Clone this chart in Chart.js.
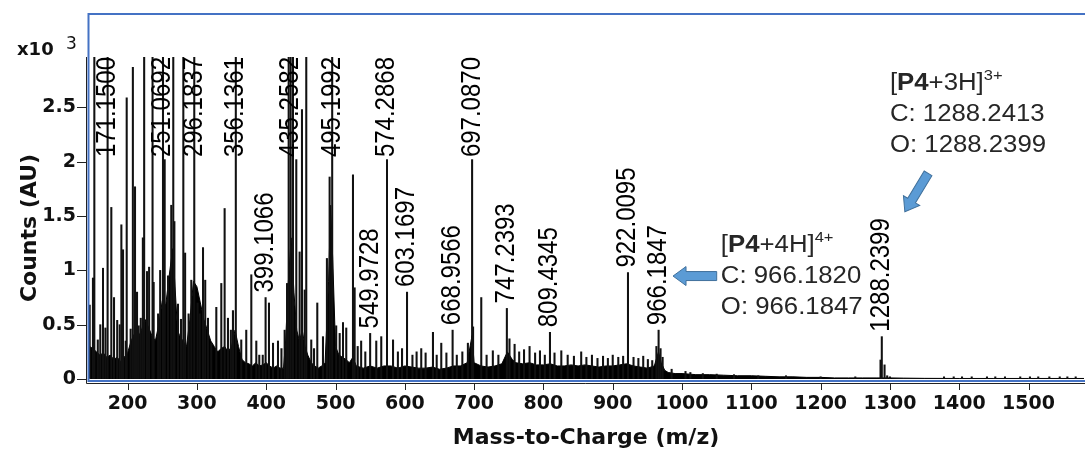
<!DOCTYPE html>
<html>
<head>
<meta charset="utf-8">
<script src="https://cdn.jsdelivr.net/npm/chart.js@4"></script>
<style>
  body { margin: 0; background: #fff; }
  canvas { display: block; }
</style>
</head>
<body>
<canvas id="spectrum" width="1085" height="452"></canvas>
<script>
// Tick values for both axes
const xTicks = [200, 300, 400, 500, 600, 700, 800, 900, 1000, 1100, 1200, 1300, 1400, 1500];
const yTicks = [0, 0.5, 1, 1.5, 2, 2.5];

// Dense low-level signal (upper edge of the filled "grass"), m/z and counts x10^3
const baseMz = [145, 150, 155, 160, 165, 170, 175, 180, 185, 190, 195, 200, 205, 210, 215, 220, 225, 230, 235, 240,
    245, 250, 255, 260, 265, 268, 272, 275, 280, 285, 290, 295, 300, 305, 310, 315, 320, 325, 330, 335,
    340, 345, 350, 355, 360, 365, 370, 375, 380, 385, 390, 395, 400, 405, 410, 415, 420, 425, 428, 432,
    436, 440, 444, 448, 452, 456, 460, 465, 470, 475, 480, 485, 490, 493, 496, 500, 505, 510, 515, 520,
    525, 530, 540, 550, 560, 570, 580, 590, 600, 610, 620, 630, 640, 650, 660, 670, 680, 690, 697, 700,
    710, 720, 730, 740, 748, 755, 760, 770, 780, 790, 800, 810, 820, 830, 840, 850, 860, 870, 880, 890,
    900, 910, 920, 930, 940, 950, 960, 966, 970, 975, 980, 990, 1000, 1020, 1040, 1060, 1080, 1100, 1120, 1140,
    1160, 1180, 1200, 1220, 1240, 1260, 1280, 1300, 1320, 1350, 1400, 1450, 1500, 1580];
const baseInt = [0.30, 0.28, 0.25, 0.22, 0.24, 0.20, 0.22, 0.18, 0.20, 0.16, 0.20, 0.24, 0.35, 0.42, 0.38, 0.45, 0.55, 0.48, 0.40, 0.35,
    0.50, 0.72, 0.68, 0.95, 1.20, 0.90, 0.45, 0.40, 0.35, 0.30, 0.55, 0.90, 0.85, 0.70, 0.55, 0.45, 0.35, 0.30, 0.25, 0.28,
    0.30, 0.25, 0.30, 0.45, 0.30, 0.18, 0.15, 0.14, 0.12, 0.15, 0.12, 0.13, 0.15, 0.12, 0.10, 0.12, 0.10, 0.10, 0.35, 0.90,
    1.30, 0.80, 0.45, 0.35, 0.45, 0.30, 0.22, 0.15, 0.12, 0.10, 0.12, 0.15, 0.90, 1.60, 1.10, 0.30, 0.22, 0.20, 0.18, 0.15,
    0.20, 0.12, 0.10, 0.12, 0.10, 0.12, 0.12, 0.10, 0.12, 0.11, 0.10, 0.10, 0.11, 0.09, 0.10, 0.12, 0.12, 0.15, 0.40, 0.15,
    0.12, 0.11, 0.12, 0.14, 0.25, 0.18, 0.15, 0.14, 0.15, 0.13, 0.13, 0.14, 0.12, 0.12, 0.13, 0.12, 0.13, 0.12, 0.11, 0.12,
    0.12, 0.13, 0.14, 0.12, 0.11, 0.10, 0.12, 0.25, 0.15, 0.08, 0.06, 0.05, 0.05, 0.04, 0.04, 0.035, 0.03, 0.03, 0.025, 0.02,
    0.02, 0.015, 0.015, 0.01, 0.01, 0.01, 0.01, 0.01, 0.008, 0.006, 0.005, 0.005, 0.005, 0.005];

// Unlabelled peaks (values above the axis top are clipped, as in the picture)
const peakMz = [145.3, 150.0, 152.0, 157.0, 160.6, 164.5, 168.0, 176.5, 180.4, 185.0, 188.6, 191.0, 193.4, 197.3, 198.7, 204.4,
    207.6, 210.7, 213.6, 216.0, 219.0, 222.0, 223.9, 228.0, 231.0, 236.0, 237.6, 244.0, 247.0, 253.5, 258.3, 263.0,
    265.9, 267.5, 272.7, 277.0, 280.4, 283.0, 288.0, 291.9, 301.0, 304.0, 308.8, 312.0, 316.0, 320.7, 328.0, 335.2,
    340.0, 344.8, 349.0, 352.0, 364.0, 371.2, 378.5, 385.7, 390.0, 395.0, 404.0, 409.8, 417.0, 422.0, 426.6, 430.0,
    432.4, 438.6, 443.4, 448.2, 451.6, 455.5, 457.8, 465.0, 469.0, 473.7, 481.9, 487.6, 491.5, 501.0, 506.0, 510.8,
    515.5, 525.2, 527.6, 532.0, 537.0, 543.0, 558.8, 566.0, 583.0, 590.0, 596.0, 611.0, 617.0, 623.7, 630.0, 640.6,
    646.0, 652.6, 660.0, 675.0, 683.0, 691.0, 698.5, 710.3, 718.0, 727.0, 735.0, 751.0, 758.4, 765.0, 772.0, 780.0,
    788.0, 795.0, 802.0, 816.0, 825.8, 835.0, 844.0, 854.5, 862.0, 870.0, 878.0, 886.0, 893.0, 900.0, 908.0, 915.0,
    930.0, 937.0, 944.0, 950.7, 957.0, 963.0, 969.0, 972.0, 985.0, 1005.0, 1012.0, 1030.0, 1050.0, 1075.0, 1110.0, 1150.0,
    1200.0, 1250.0, 1286.4, 1292.2, 1296.0, 1300.0, 1378, 1392, 1404, 1418, 1440, 1452, 1466, 1488, 1502, 1514,
    1530, 1545, 1556, 1568];
const peakInt = [0.68, 0.93, 3.3, 0.36, 0.50, 1.02, 0.47, 1.58, 0.75, 0.54, 0.50, 1.42, 1.19, 0.35, 2.59, 0.46,
    2.87, 1.77, 0.80, 0.49, 0.56, 1.30, 3.4, 0.99, 1.03, 3.2, 0.89, 0.60, 1.00, 2.02, 0.95, 1.60,
    3.3, 1.45, 0.69, 0.55, 3.1, 1.16, 0.60, 0.91, 0.70, 0.60, 1.21, 0.91, 0.56, 0.33, 0.66, 0.88,
    1.57, 0.56, 0.45, 0.63, 0.36, 0.45, 0.96, 0.35, 0.22, 0.22, 0.70, 0.33, 0.35, 0.28, 0.45, 0.88,
    3.3, 3.2, 2.02, 1.17, 2.48, 0.82, 3.1, 0.36, 0.28, 0.70, 0.39, 1.11, 1.86, 0.49, 0.42, 0.52,
    0.47, 1.88, 0.84, 0.30, 0.35, 0.25, 0.35, 0.39, 0.36, 0.25, 0.28, 0.22, 0.25, 0.28, 0.24, 0.43,
    0.22, 0.33, 0.24, 0.22, 0.25, 0.33, 0.48, 0.75, 0.22, 0.26, 0.22, 0.37, 0.32, 0.25, 0.27, 0.30,
    0.24, 0.26, 0.22, 0.24, 0.26, 0.22, 0.21, 0.25, 0.20, 0.22, 0.19, 0.21, 0.19, 0.22, 0.20, 0.21,
    0.20, 0.19, 0.21, 0.18, 0.17, 0.30, 0.28, 0.20, 0.09, 0.07, 0.06, 0.05, 0.045, 0.04, 0.03, 0.03,
    0.02, 0.02, 0.175, 0.13, 0.03, 0.02, 0.02, 0.02, 0.02, 0.02, 0.02, 0.02, 0.02, 0.02, 0.02, 0.02,
    0.02, 0.02, 0.02, 0.02];

// Labelled peaks
const labelMz = [171.1500, 251.0692, 296.1837, 356.1361, 399.1066, 435.2582, 495.1992, 549.9728, 574.2868,
    603.1697, 668.9566, 697.0870, 747.2393, 809.4345, 922.0095, 966.1847, 1288.2399];
const labelInt = [3.5, 3.4, 3.3, 3.5, 0.75, 3.5, 3.3, 0.42, 2.02, 0.80, 0.45, 2.02, 0.65, 0.43, 0.98, 0.45, 0.39];

// Ion annotations: text anchor (m/z, counts) and arrow tail/tip
const ionNotes = [
    { ion: "4H", charge: "4+", calc: "966.1820", obs: "966.1847", at: [1056, 1.17], tail: [1050, 0.948], tip: [987, 0.948] },
    { ion: "3H", charge: "3+", calc: "1288.2413", obs: "1288.2399", at: [1300, 2.66], tail: [1355, 1.894], tip: [1321.5, 1.54] }
];

const Y_MAX = 2.965;
const blue = "rgb(68, 114, 196)";
const labelFont = 'px "Liberation Sans", Arial, sans-serif';
const axisFont = '"DejaVu Sans", sans-serif';

let sticks = [];
peakMz.forEach((mz, i) => sticks.push({ x: mz, y: peakInt[i] }));
labelMz.forEach((mz, i) => sticks.push({ x: mz, y: labelInt[i] }));
let baseline = baseMz.map((mz, i) => ({ x: mz, y: baseInt[i] }));

// draws text runs, a little wide like the original export
function draw_runs(ctx, x, y, runs, size) {
    ctx.save();
    ctx.translate(x, y);
    ctx.scale(1.12, 1);
    let cx = 0;
    runs.forEach((r) => {
        let s = r.sup ? size * 0.64 : size;
        ctx.font = (r.bold ? "bold " : "") + s + labelFont;
        ctx.fillText(r.text, cx, r.sup ? -size * 0.42 : 0);
        cx += ctx.measureText(r.text).width;
    });
    ctx.restore();
}

function draw_arrow(ctx, x0, y0, x1, y1) {
    const len = Math.hypot(x1 - x0, y1 - y0);
    const head = 13, hw = 9.5, sw = 4.5;
    ctx.save();
    ctx.translate(x1, y1);
    ctx.rotate(Math.atan2(y0 - y1, x0 - x1));
    ctx.beginPath();
    ctx.moveTo(0, 0);
    ctx.lineTo(head, -hw);
    ctx.lineTo(head, -sw);
    ctx.lineTo(len, -sw);
    ctx.lineTo(len, sw);
    ctx.lineTo(head, sw);
    ctx.lineTo(head, hw);
    ctx.closePath();
    ctx.fillStyle = "rgb(91, 155, 213)";
    ctx.fill();
    ctx.strokeStyle = "rgb(65, 113, 156)";
    ctx.lineWidth = 1;
    ctx.stroke();
    ctx.restore();
}

const spectrumDecor = {
    id: "spectrumDecor",
    afterDatasetsDraw(chart) {
        const ctx = chart.ctx;
        const xs = chart.scales.x, ys = chart.scales.y;
        const top = chart.chartArea.top;
        ctx.save();
        ctx.fillStyle = "#000";
        ctx.font = "24" + labelFont;
        ctx.textAlign = "left";
        ctx.textBaseline = "middle";
        labelMz.forEach((mz, i) => {
            const text = mz.toFixed(4);
            const len = ctx.measureText(text).width;
            const x = xs.getPixelForValue(mz);
            let bottom = ys.getPixelForValue(Math.min(labelInt[i], Y_MAX)) - 5;
            if (bottom - len < top) bottom = top + len;
            ctx.save();
            ctx.translate(x, bottom);
            ctx.scale(1.12, 1);
            ctx.rotate(-Math.PI / 2);
            ctx.fillText(text, 0, 0);
            ctx.restore();
        });
        ctx.restore();
    },
    afterDraw(chart) {
        const ctx = chart.ctx;
        const xs = chart.scales.x, ys = chart.scales.y;
        const area = chart.chartArea;
        ctx.save();

        // axis lines and tick marks
        ctx.strokeStyle = "#222";
        ctx.lineWidth = 1;
        ctx.beginPath();
        ctx.moveTo(86.5, area.top);
        ctx.lineTo(86.5, 383.5);
        ctx.lineTo(chart.width, 383.5);
        yTicks.forEach((v) => {
            const y = Math.round(ys.getPixelForValue(v)) + 0.5;
            ctx.moveTo(77, y);
            ctx.lineTo(86, y);
        });
        xTicks.forEach((v) => {
            const x = Math.round(xs.getPixelForValue(v)) + 0.5;
            ctx.moveTo(x, 384);
            ctx.lineTo(x, 390);
        });
        ctx.stroke();

        // blue frame (open on the right)
        ctx.strokeStyle = blue;
        ctx.lineWidth = 2;
        ctx.beginPath();
        ctx.moveTo(chart.width, 14);
        ctx.lineTo(88.5, 14);
        ctx.lineTo(88.5, 381);
        ctx.lineTo(chart.width, 381);
        ctx.stroke();

        // axis titles and multiplier
        ctx.fillStyle = "#111";
        ctx.textAlign = "center";
        ctx.textBaseline = "middle";
        ctx.font = "bold 22px " + axisFont;
        ctx.fillText("Mass-to-Charge (m/z)", 586, 438);
        ctx.save();
        ctx.translate(30, 228);
        ctx.rotate(-Math.PI / 2);
        ctx.fillText("Counts (AU)", 0, 0);
        ctx.restore();
        ctx.textAlign = "left";
        ctx.textBaseline = "alphabetic";
        ctx.font = "bold 18px " + axisFont;
        ctx.fillText("x10", 17, 55);
        ctx.font = "17px " + axisFont;
        ctx.fillText("3", 66, 49);

        // ion annotations
        ctx.fillStyle = "#262626";
        ionNotes.forEach((n) => {
            const x = xs.getPixelForValue(n.at[0]);
            const y = ys.getPixelForValue(n.at[1]);
            draw_runs(ctx, x, y, [
                { text: "[" }, { text: "P4", bold: true }, { text: "+" + n.ion + "]" }, { text: n.charge, sup: true }
            ], 23);
            draw_runs(ctx, x, y + 31, [{ text: "C: " + n.calc }], 23);
            draw_runs(ctx, x, y + 62, [{ text: "O: " + n.obs }], 23);
            draw_arrow(ctx, xs.getPixelForValue(n.tail[0]), ys.getPixelForValue(n.tail[1]),
                xs.getPixelForValue(n.tip[0]), ys.getPixelForValue(n.tip[1]));
        });
        ctx.restore();
    }
};

const spectrum_ctx = document.getElementById("spectrum").getContext("2d");
const spectrum_chart = new Chart(spectrum_ctx, {
    type: "bar",
    data: {
        datasets: [{
            type: "bar",
            data: sticks,
            backgroundColor: "#111",
            barThickness: 1.4,
            grouped: false,
            clip: 0,
            order: 1
        }, {
            type: "line",
            data: baseline,
            borderColor: "#000",
            borderWidth: 1,
            backgroundColor: "#000",
            fill: "origin",
            pointRadius: 0,
            tension: 0,
            clip: 0,
            order: 2
        }]
    },
    options: {
        responsive: false,
        animation: false,
        devicePixelRatio: 1,
        layout: { padding: { top: 57, right: 1, left: 0, bottom: 0 } },
        plugins: { legend: { display: false }, tooltip: { enabled: false } },
        scales: {
            x: {
                type: "linear",
                min: 144.3,
                max: 1580,
                offset: false,
                afterBuildTicks: (s) => { s.ticks = xTicks.map((v) => ({ value: v })); },
                afterFit: (s) => { s.height = 73; },
                grid: { display: true, drawOnChartArea: false, drawTicks: false, offset: false },
                border: { display: false },
                ticks: {
                    font: { family: axisFont, weight: "bold", size: 19 },
                    color: "#111",
                    padding: 14,
                    maxRotation: 0,
                    autoSkip: false,
                    callback: (v) => String(v)
                }
            },
            y: {
                min: 0,
                max: Y_MAX,
                afterBuildTicks: (s) => { s.ticks = yTicks.map((v) => ({ value: v })); },
                afterFit: (s) => { s.width = 89; },
                grid: { display: true, drawOnChartArea: false, drawTicks: false },
                border: { display: false },
                ticks: {
                    font: { family: axisFont, weight: "bold", size: 19 },
                    color: "#111",
                    padding: 13,
                    callback: (v) => String(v)
                }
            }
        }
    },
    plugins: [spectrumDecor]
});
</script>
</body>
</html>
